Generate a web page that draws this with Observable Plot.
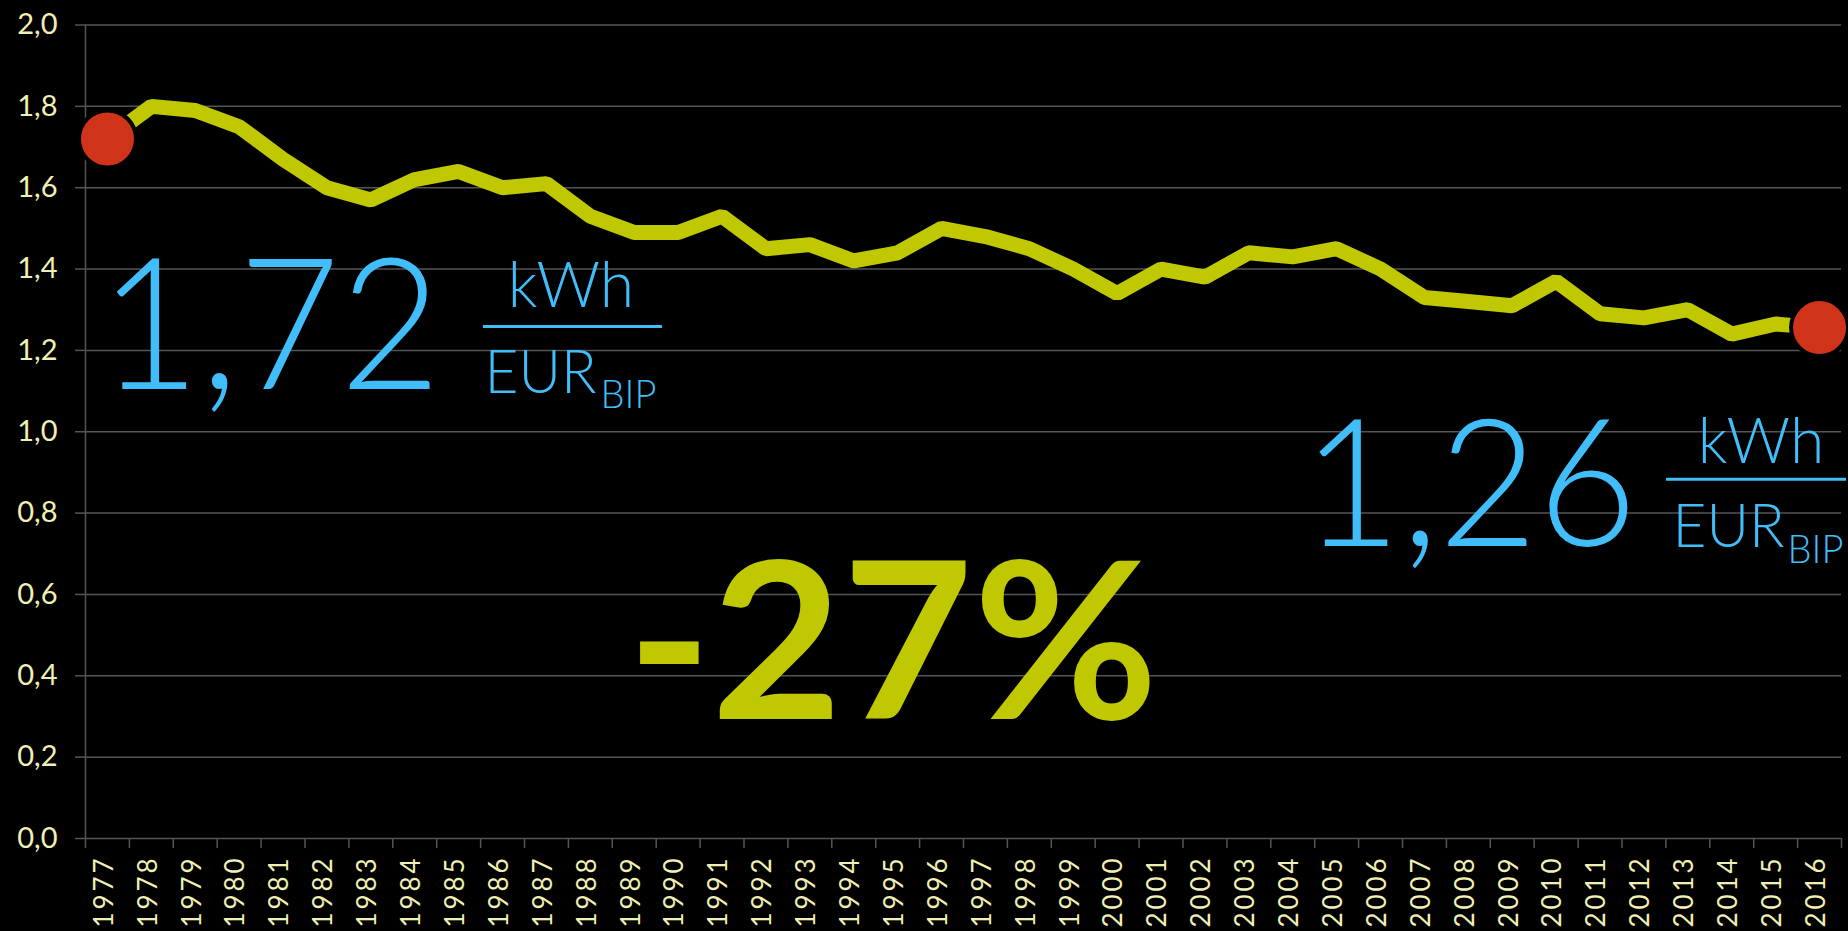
<!DOCTYPE html>
<html>
<head>
<meta charset="utf-8">
<script src="https://cdn.jsdelivr.net/npm/d3@7"></script>
<script src="https://cdn.jsdelivr.net/npm/@observablehq/plot@0.6"></script>
<style>
  html, body { margin: 0; padding: 0; background: #000; overflow: hidden; }
  svg { display: block; }
</style>
</head>
<body>
<script>
// ---- data ----
const years = [1977, 1978, 1979, 1980, 1981, 1982, 1983, 1984, 1985, 1986,
               1987, 1988, 1989, 1990, 1991, 1992, 1993, 1994, 1995, 1996,
               1997, 1998, 1999, 2000, 2001, 2002, 2003, 2004, 2005, 2006,
               2007, 2008, 2009, 2010, 2011, 2012, 2013, 2014, 2015, 2016];
const values = [1.72, 1.80, 1.79, 1.75, 1.67, 1.60, 1.57, 1.62, 1.64, 1.60,
                1.61, 1.53, 1.49, 1.49, 1.53, 1.45, 1.46, 1.42, 1.44, 1.50,
                1.48, 1.45, 1.40, 1.34, 1.40, 1.38, 1.44, 1.43, 1.45, 1.40,
                1.33, 1.32, 1.31, 1.37, 1.29, 1.28, 1.30, 1.24, 1.265, 1.256];
const yTicks = [0, 0.2, 0.4, 0.6, 0.8, 1.0, 1.2, 1.4, 1.6, 1.8, 2.0];
const unitTop = "kWh";
const unitBottom = "EUR";
const unitSub = "BIP";

// ---- derived ----
const rows = years.map((year, i) => ({year, value: values[i]}));
const boundaries = [years[0] - 0.5, ...years.map(y => y + 0.5)];
const comma = (v, d) => v.toFixed(d).replace(".", ",");
const first = rows[0], last = rows[rows.length - 1];
const change = Math.round((last.value / first.value - 1) * 100);
const startLabel = comma(first.value, 2);
const endLabel = comma(last.value, 2);
const changeLabel = (change < 0 ? "-" : "+") + Math.abs(change) + "%";

// ---- styles ----
const LINE = "#bfc800", RED = "#cf341a", BLUE = "#41bef9", TICKTXT = "#f0f0b4", GRID = "#555";
const FONT = "Lato, 'Open Sans', sans-serif";

// fraction bar drawn from scales
function fractionBar(year, v, dx1, dx2, dy) {
  return (index, scales) => {
    const x = scales.x(year), y = scales.y(v) + dy;
    const l = document.createElementNS("http://www.w3.org/2000/svg", "line");
    l.setAttribute("x1", x + dx1); l.setAttribute("x2", x + dx2);
    l.setAttribute("y1", y); l.setAttribute("y2", y);
    l.setAttribute("stroke", BLUE); l.setAttribute("stroke-width", 3);
    return l;
  };
}

// a unit block: number + fraction
function unitBlock(anchor, yv, o) {
  const d = [anchor];
  const base = {x: "year", y: () => yv, lineAnchor: "bottom", fill: BLUE, fontFamily: FONT, fontWeight: 300};
  return [
    Plot.text(d, {...base, text: () => o.label, textAnchor: o.numAnchor, dx: o.numDx, fontSize: o.numSize}),
    Plot.text(d, {...base, text: () => unitTop, textAnchor: "middle", dx: o.topDx, dy: o.topDy, fontSize: 63}),
    Plot.text(d, {...base, text: () => unitBottom, textAnchor: "start", dx: o.botDx, dy: o.botDy, fontSize: 62}),
    Plot.text(d, {...base, text: () => unitSub, textAnchor: "start", dx: o.subDx, dy: o.subDy, fontSize: 40}),
    fractionBar(anchor.year, yv, o.barDx1, o.barDx2, o.barDy)
  ];
}

const svg = Plot.plot({
  width: 1848,
  height: 931,
  marginLeft: 85,
  marginRight: 7,
  marginTop: 24.5,
  marginBottom: 93,
  style: {background: "#000", color: TICKTXT, fontFamily: FONT},
  x: {domain: [boundaries[0], boundaries[boundaries.length - 1]], label: null},
  y: {domain: [0, 2], label: null},
  marks: [
    Plot.gridY(yTicks, {stroke: GRID, strokeOpacity: 1, strokeWidth: 1.5}),
    Plot.axisY(yTicks, {tickSize: 10, tickPadding: 18, stroke: GRID, strokeOpacity: 1, strokeWidth: 1.5,
      fill: TICKTXT, fontSize: 29, fontWeight: 400, tickFormat: d => comma(d, 1), label: null}),
    Plot.ruleX([boundaries[0]], {y1: 0, y2: 2, stroke: GRID, strokeWidth: 1.5}),
    Plot.axisX(boundaries, {tickSize: 10, stroke: GRID, strokeOpacity: 1, strokeWidth: 1.5, tickFormat: () => "", label: null}),
    Plot.axisX(years, {tickSize: 0, tickPadding: 20, tickRotate: -90, fill: TICKTXT, fontSize: 26, fontWeight: 400,
      dx: -3, tickFormat: d => String(d), label: null}),
    Plot.line(rows, {x: "year", y: "value", stroke: LINE, strokeWidth: 15,
      strokeLinejoin: "miter", strokeLinecap: "butt"}),
    Plot.dot([first, last], {x: "year", y: "value", r: 28.5, fill: RED, stroke: "#000", strokeWidth: 4}),
    ...unitBlock(first, 1.105, {label: startLabel, numAnchor: "start", numDx: -8.5, numSize: 184,
      topDx: 463.5, topDy: -82, botDx: 377, botDy: 3.5, subDx: 493, subDy: 18.5, barDx1: 376, barDx2: 555, barDy: -62}),
    ...unitBlock(last, 0.718, {label: endLabel, numAnchor: "end", numDx: -182.6, numSize: 178,
      topDx: -58.5, topDy: -83.3, botDx: -147, botDy: 1, subDx: -32, subDy: 17, barDx1: -153, barDx2: 27, barDy: -66.7}),
    Plot.text([rows[18]], {x: "year", y: () => 0.2926, text: () => changeLabel, textAnchor: "middle", dx: -5,
      lineAnchor: "bottom", fill: LINE, fontFamily: FONT, fontWeight: 700, fontSize: 219})
  ]
});

// fit annotation widths to the reference
const fit = {[startLabel]: 342, [endLabel]: 335, [changeLabel]: 531, [unitTop]: 126.5, [unitBottom]: 112, [unitSub]: 56};
d3.select(svg).selectAll("text").each(function() {
  if (this.childElementCount !== 0) return;
  const t = this.textContent;
  if (fit[t]) {
    this.setAttribute("textLength", fit[t]);
    this.setAttribute("lengthAdjust", "spacingAndGlyphs");
  } else if (/^\d{4}$/.test(t)) {
    this.setAttribute("textLength", 69);
    this.setAttribute("lengthAdjust", "spacing");
  }
});

document.body.appendChild(svg);
</script>
</body>
</html>
